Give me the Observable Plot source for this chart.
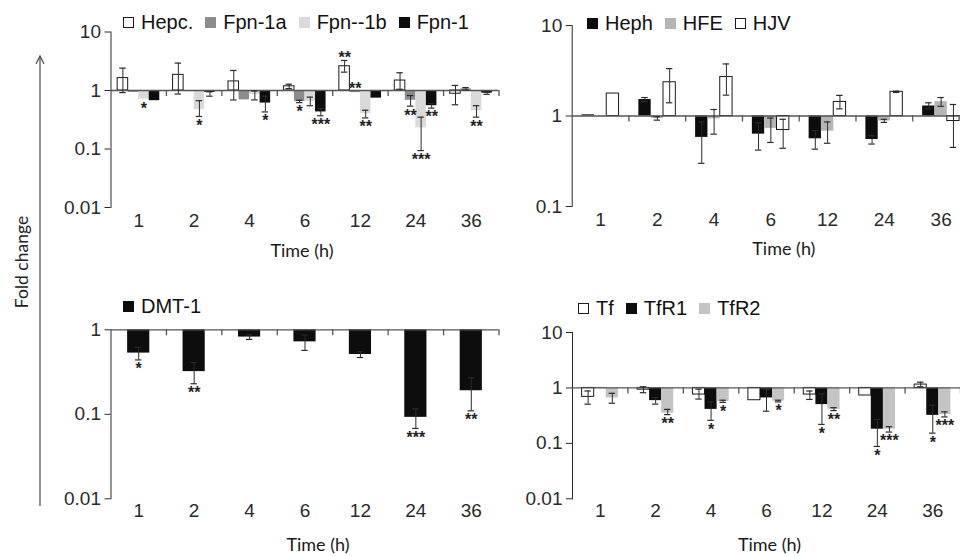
<!DOCTYPE html>
<html><head><meta charset="utf-8">
<script src="https://cdn.jsdelivr.net/npm/d3@7"></script>
<script src="https://cdn.jsdelivr.net/npm/@observablehq/plot@0.6"></script>
<style>
html,body{margin:0;padding:0;background:#fff;overflow:hidden;}
#wrap{position:relative;width:960px;height:556px;overflow:hidden;background:#fff;}
.pan{position:absolute;}
.legend{position:absolute;display:flex;align-items:center;font-family:"Liberation Sans",Arial,sans-serif;font-size:20px;color:#111;white-space:nowrap;line-height:20px;}
.legend .it{display:flex;align-items:center;margin-right:12px;}
.legend .sw{width:11px;height:11px;margin-right:7px;box-sizing:border-box;}
#ylab{position:absolute;left:21px;top:262px;transform:translate(-50%,-50%) rotate(-90deg);font-family:Lato,"Open Sans",sans-serif;font-size:17.5px;color:#222;white-space:nowrap;}
#arrow{position:absolute;left:0;top:0;}
</style></head>
<body>
<div id="wrap">
  <svg id="arrow" width="60" height="556"><line x1="40" y1="56" x2="40" y2="506" stroke="#555" stroke-width="1.3"/><polyline points="36,64 40,56 44,64" fill="none" stroke="#555" stroke-width="1.3"/></svg>
  <div id="ylab">Fold change</div>
</div>
<script>
const times = ["1", "2", "4", "6", "12", "24", "36"];

// Panel A: hepcidin / ferroportin
const seriesA = ["Hepc.", "Fpn-1a", "Fpn--1b", "Fpn-1"];
const hepcV  = [1.63, 1.85, 1.43, 1.18, 2.6, 1.48, 0.88];
const hepcLo = [0.92, 0.87, 0.69, 1.08, 2.06, 1.05, 0.57];
const hepcHi = [2.41, 2.94, 2.2, 1.28, 3.26, 2.01, 1.22];
const fpn1aV  = [0.93, 0.96, 0.69, 0.65, 0.92, 0.68, 1.07];
const fpn1aLo = [null, null, null, 0.62, null, 0.54, 1.02];
const fpn1aHi = [null, null, null, 0.68, null, 0.82, 1.12];
const fpn1bV  = [0.71, 0.47, 0.85, 0.65, 0.4, 0.23, 0.45];
const fpn1bLo = [null, 0.36, 0.69, 0.55, 0.34, 0.094, 0.35];
const fpn1bHi = [null, 0.67, 0.98, 0.77, 0.46, 0.35, 0.55];
const fpn1V  = [0.67, 0.93, 0.61, 0.43, 0.74, 0.55, 0.9];
const fpn1Lo = [null, 0.8, 0.43, 0.37, null, 0.5, 0.86];
const fpn1Hi = [null, 0.95, 0.8, 0.49, null, 0.6, 0.94];
const starsA = [["1","Fpn--1b","*"],["2","Fpn--1b","*"],["4","Fpn-1","*"],["6","Fpn-1a","*"],["6","Fpn-1","***"],
  ["12","Hepc.","**","above"],["12","Fpn-1a","**","above"],["12","Fpn--1b","**"],["24","Fpn-1a","**"],["24","Fpn--1b","***"],["24","Fpn-1","**"],["36","Fpn--1b","**"]];

// Panel B: Heph / HFE / HJV
const seriesB = ["Heph", "HFE", "HJV"];
const hephV  = [1.03, 1.52, 0.58, 0.63, 0.56, 0.55, 1.29];
const hephLo = [null, 1.45, 0.30, 0.42, 0.43, 0.49, 1.2];
const hephHi = [null, 1.6, 0.86, 0.84, 0.69, 0.61, 1.4];
const hfeV  = [1.0, 0.94, 0.93, 0.73, 0.68, 0.88, 1.44];
const hfeLo = [null, 0.9, 0.63, 0.51, 0.5, 0.85, 1.28];
const hfeHi = [null, 0.98, 1.18, 0.95, 0.86, 0.92, 1.6];
const hjvV  = [1.77, 2.36, 2.7, 0.7, 1.43, 1.85, 0.88];
const hjvLo = [null, 1.4, 1.7, 0.44, 1.2, 1.82, 0.45];
const hjvHi = [null, 3.34, 3.76, 0.92, 1.69, 1.88, 1.34];

// Panel C: DMT-1
const seriesC = ["DMT-1"];
const dmtV  = [0.53, 0.32, 0.82, 0.72, 0.51, 0.092, 0.19];
const dmtLo = [0.44, 0.23, 0.77, 0.57, 0.47, 0.068, 0.11];
const dmtHi = [0.62, 0.41, 0.87, 0.87, 0.55, 0.116, 0.27];
const starsC = [["1","DMT-1","*"],["2","DMT-1","**"],["24","DMT-1","***"],["36","DMT-1","**"]];

// Panel D: Tf / TfR1 / TfR2
const seriesD = ["Tf", "TfR1", "TfR2"];
const tfV  = [0.69, 0.93, 0.76, 0.6, 0.76, 0.73, 1.15];
const tfLo = [0.51, 0.82, 0.63, null, 0.62, null, 1.05];
const tfHi = [0.88, 1.05, 0.95, null, 0.88, null, 1.27];
const tfr1V  = [1.02, 0.59, 0.41, 0.66, 0.5, 0.18, 0.32];
const tfr1Lo = [null, 0.51, 0.26, 0.38, 0.22, 0.088, 0.153];
const tfr1Hi = [null, 0.67, 0.56, 0.94, 0.78, 0.27, 0.49];
const tfr2V  = [0.66, 0.35, 0.57, 0.58, 0.41, 0.18, 0.33];
const tfr2Lo = [0.53, 0.33, 0.55, 0.56, 0.39, 0.16, 0.3];
const tfr2Hi = [0.8, 0.41, 0.6, 0.6, 0.44, 0.2, 0.37];
const starsD = [["2","TfR2","**"],["4","TfR1","*"],["4","TfR2","*"],["6","TfR2","*"],["12","TfR1","*"],["12","TfR2","**"],
  ["24","TfR1","*"],["24","TfR2","***"],["36","TfR1","*"],["36","TfR2","***"]];

const wrap = document.getElementById("wrap");

function rowsFor(names, vals, los, his) {
  const rows = [];
  names.forEach((s, j) => times.forEach((t, i) =>
    rows.push({i, j, time: t, series: s, v: vals[j][i], lo: los[j][i], hi: his[j][i]})));
  return rows;
}

function makePanel(c) {
  const rows = rowsFor(c.names, c.vals, c.los, c.his);
  const n = c.names.length;
  const pad = (1 - n * c.barW) / 2;
  const groupPx = (c.width - c.ml - c.mr) / times.length;
  const decadePx = (c.height - c.mt - c.mb) / (Math.log10(c.yDomain[1]) - Math.log10(c.yDomain[0]));
  const capHalf = 3.2 / groupPx;
  const tickDown = Math.pow(10, -6 / decadePx);
  const x0 = d => d.i - 0.5 + pad + d.j * c.barW;
  const cx = d => x0(d) + c.barW / 2;
  const errRows = rows.filter(d => d.lo != null);
  const starRows = (c.stars || []).map(([t, s, label, pos]) => {
    const d = rows.find(r => r.time === t && r.series === s);
    return {...d, label, pos: pos || "below"};
  });
  const marks = [];
  c.names.forEach((s, j) => marks.push(Plot.rect(rows.filter(d => d.j === j), {
    x1: x0, x2: d => x0(d) + c.barW, y1: () => 1, y2: "v",
    fill: c.fills[j], stroke: c.strokes[j], strokeWidth: 1
  })));
  marks.push(Plot.ruleY([1], {stroke: "#555", strokeWidth: 1.3}));
  marks.push(Plot.ruleX(d3.range(times.length).map(i => i + 0.5), {x: d => d, y1: () => 1, y2: () => tickDown, stroke: "#555", strokeWidth: 1.3}));
  marks.push(Plot.ruleX(errRows, {x: cx, y1: "lo", y2: "hi", stroke: "#2a2a2a", strokeWidth: 1}));
  marks.push(Plot.ruleY(errRows, {x1: d => cx(d) - capHalf, x2: d => cx(d) + capHalf, y: "lo", stroke: "#2a2a2a", strokeWidth: 1.2}));
  marks.push(Plot.ruleY(errRows, {x1: d => cx(d) - capHalf, x2: d => cx(d) + capHalf, y: "hi", stroke: "#2a2a2a", strokeWidth: 1.2}));
  const starStyle = {text: "label", fontSize: 16, fontWeight: "bold", fontFamily: "Liberation Sans, Arial, sans-serif", fill: "#222", letterSpacing: "0.5px"};
  marks.push(Plot.text(starRows.filter(d => d.pos === "below"), {x: cx, y: d => d.lo ?? d.v, lineAnchor: "top", dy: 3, ...starStyle}));
  marks.push(Plot.text(starRows.filter(d => d.pos === "above"), {x: cx, y: d => Math.max(d.hi ?? d.v, d.v, 1), lineAnchor: "bottom", dy: 3, ...starStyle}));
  marks.push(Plot.text(["Time (h)"], {frameAnchor: "bottom", text: d => d, dx: c.labelDx, dy: c.labelDy, lineAnchor: "top",
    fontFamily: "Lato, 'Open Sans', sans-serif", fontSize: 18, fontWeight: "normal", fill: "#1a1a1a"}));

  const svg = Plot.plot({
    width: c.width, height: c.height,
    marginLeft: c.ml, marginRight: c.mr, marginTop: c.mt, marginBottom: c.mb,
    style: {background: "transparent", fontFamily: "Liberation Sans, Arial, sans-serif", fontSize: "19px", color: "#2a2a2a", overflow: "visible"},
    x: {domain: [-0.5, times.length - 0.5], ticks: d3.range(times.length), tickFormat: i => times[i], tickSize: 0, tickPadding: c.xPad, label: null},
    y: {type: "log", domain: c.yDomain, ticks: c.yTicks, tickFormat: d => String(d), tickSize: 6, tickPadding: 4, line: true, label: null},
    marks
  });
  svg.classList.add("pan");
  svg.style.left = c.left + "px";
  svg.style.top = c.top + "px";
  svg.style.maxWidth = "none";
  wrap.appendChild(svg);

  const lg = document.createElement("div");
  lg.className = "legend";
  lg.style.left = c.legend[0] + "px";
  lg.style.top = c.legend[1] + "px";
  c.names.forEach((s, j) => {
    const it = document.createElement("div"); it.className = "it";
    const sw = document.createElement("div"); sw.className = "sw";
    sw.style.background = c.fills[j];
    if (c.strokes[j] !== "none") sw.style.border = "1.2px solid " + c.strokes[j];
    const tx = document.createElement("span"); tx.textContent = s;
    it.appendChild(sw); it.appendChild(tx); lg.appendChild(it);
  });
  wrap.appendChild(lg);
}

const BLACK = "#0d0d0d";
makePanel({names: seriesA, vals: [hepcV, fpn1aV, fpn1bV, fpn1V], los: [hepcLo, fpn1aLo, fpn1bLo, fpn1Lo], his: [hepcHi, fpn1aHi, fpn1bHi, fpn1Hi],
  fills: ["#ffffff", "#8c8c8c", "#dadada", BLACK], strokes: ["#1a1a1a", "none", "none", "none"], barW: 0.19,
  yDomain: [0.01, 10], yTicks: [10, 1, 0.1, 0.01], left: 0, top: 0, width: 500, height: 260, ml: 110.5, mr: 1.5, mt: 31.5, mb: 53,
  xPad: 6, labelDx: -3, labelDy: 37, stars: starsA, legend: [123, 12]});
makePanel({names: seriesB, vals: [hephV, hfeV, hjvV], los: [hephLo, hfeLo, hjvLo], his: [hephHi, hfeHi, hjvHi],
  fills: [BLACK, "#b5b5b5", "#ffffff"], strokes: ["none", "none", "#1a1a1a"], barW: 0.217,
  yDomain: [0.1, 10], yTicks: [10, 1, 0.1], left: 460, top: 0, width: 520, height: 260, ml: 111.7, mr: 11, mt: 25, mb: 54,
  xPad: 6, labelDx: 13, labelDy: 36, stars: [], legend: [587, 13]});
makePanel({names: seriesC, vals: [dmtV], los: [dmtLo], his: [dmtHi],
  fills: [BLACK], strokes: ["none"], barW: 0.4,
  yDomain: [0.01, 1], yTicks: [1, 0.1, 0.01], left: 0, top: 270, width: 500, height: 286, ml: 110.5, mr: 1.5, mt: 59.3, mb: 57.7,
  xPad: 5, labelDx: 13, labelDy: 39, stars: starsC, legend: [123, 296]});
makePanel({names: seriesD, vals: [tfV, tfr1V, tfr2V], los: [tfLo, tfr1Lo, tfr2Lo], his: [tfHi, tfr1Hi, tfr2Hi],
  fills: ["#ffffff", BLACK, "#c4c4c4"], strokes: ["#1a1a1a", "none", "none"], barW: 0.218,
  yDomain: [0.01, 10], yTicks: [10, 1, 0.1, 0.01], left: 460, top: 270, width: 500, height: 286, ml: 112, mr: 0, mt: 62, mb: 57.7,
  xPad: 5, labelDx: 3, labelDy: 39, stars: starsD, legend: [578, 298]});
</script>
</body></html>
